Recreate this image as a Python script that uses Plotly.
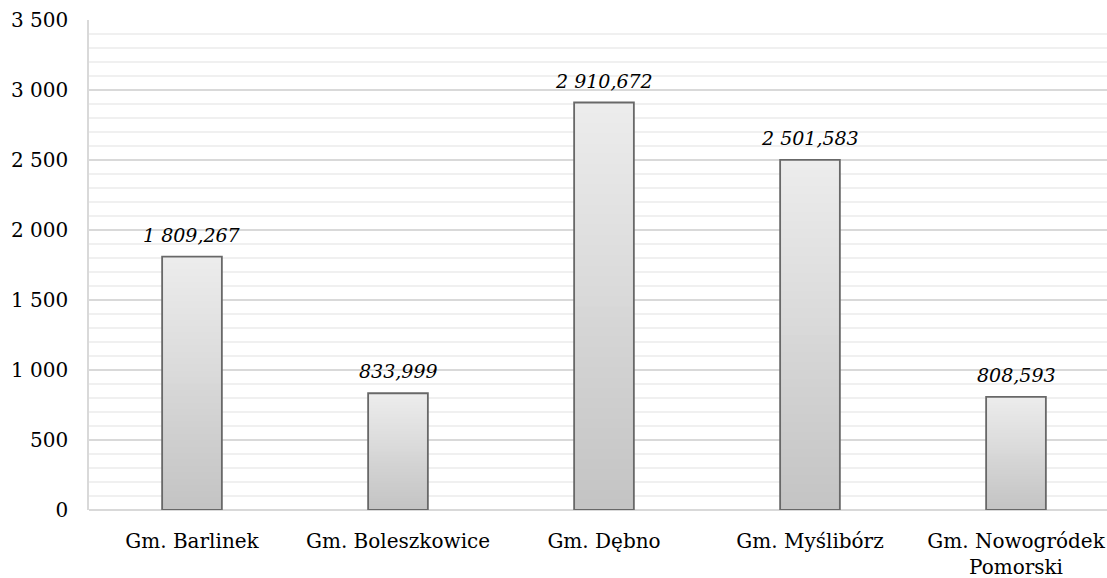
import plotly.graph_objects as go

# Gminy and their values
gminy = [
    "Gm. Barlinek",
    "Gm. Boleszkowice",
    "Gm. Dębno",
    "Gm. Myślibórz",
    "Gm. Nowogródek<br>Pomorski",
]
wartosci = [1809.267, 833.999, 2910.672, 2501.583, 808.593]

FONT = "DejaVu Serif"
BAR_W = 0.29
N_SLICES = 40
TOP_RGB = (236, 236, 236)
BOTTOM_RGB = (196, 196, 196)


def fmt_pl(v):
    # Polish style: space as thousands separator, comma as decimal mark
    return f"{v:,.3f}".replace(",", " ").replace(".", ",")


fig = go.Figure()

# Vertical gradient inside each bar: each layer starts higher and is lighter,
# covering everything above its base so no seams show between layers
for i in range(N_SLICES):
    t = i / (N_SLICES - 1)
    rgb = tuple(round(b + (a - b) * t) for a, b in zip(TOP_RGB, BOTTOM_RGB))
    fig.add_trace(go.Bar(
        x=gminy,
        y=[v * (1 - i / N_SLICES) for v in wartosci],
        base=[v * i / N_SLICES for v in wartosci],
        width=BAR_W,
        marker=dict(color="rgb(%d,%d,%d)" % rgb, line=dict(width=0)),
        hoverinfo="skip",
        showlegend=False,
    ))

# Outline of each bar
fig.add_trace(go.Bar(
    x=gminy,
    y=wartosci,
    width=BAR_W,
    marker=dict(color="rgba(0,0,0,0)", line=dict(color="#686868", width=1.8)),
    showlegend=False,
))

# Value labels above the bars
for g, v in zip(gminy, wartosci):
    fig.add_annotation(
        x=g, y=v, text=fmt_pl(v),
        showarrow=False, xanchor="center", yanchor="bottom", yshift=9,
        font=dict(family=FONT, size=19, color="#000000", style="italic"),
    )

fig.update_layout(
    width=1107,
    height=578,
    margin=dict(l=89, r=0, t=20, b=68),
    paper_bgcolor="white",
    plot_bgcolor="white",
    barmode="overlay",
    separators=", ",
    font=dict(family=FONT, size=20, color="#000000"),
)

fig.update_xaxes(
    range=[-0.5, 4.5 - 12 / 206],
    showgrid=False,
    showline=False,
    zeroline=False,
    ticks="",
    automargin=False,
    ticklabelstandoff=17,
    tickfont=dict(family=FONT, size=20),
)

fig.update_yaxes(
    range=[0, 3500],
    dtick=500,
    tickformat=",d",
    showgrid=True,
    gridcolor="#d9d9d9",
    gridwidth=1.5,
    minor=dict(dtick=100, showgrid=True, gridcolor="#f0f0f0", gridwidth=1.5),
    showline=True,
    linecolor="#d9d9d9",
    linewidth=1.5,
    zeroline=True,
    zerolinecolor="#d9d9d9",
    zerolinewidth=2,
    ticks="",
    automargin=False,
    ticklabelstandoff=15,
    tickfont=dict(family=FONT, size=20),
)

fig.write_html("out.html")
